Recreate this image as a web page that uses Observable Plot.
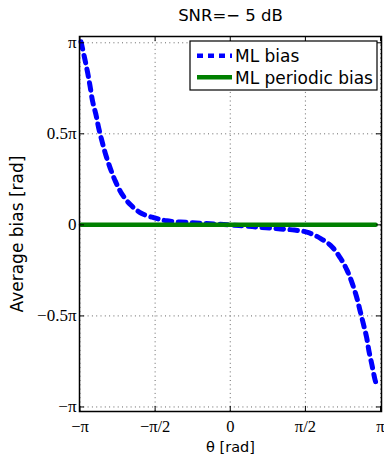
<!DOCTYPE html>
<html><head><meta charset="utf-8">
<script src="https://cdn.jsdelivr.net/npm/d3@7"></script>
<script src="https://cdn.jsdelivr.net/npm/@observablehq/plot@0.6"></script>
<style>
body{margin:0;background:#fff;}
#chart{position:relative;width:384px;height:455px;overflow:hidden;}
</style></head><body><div id="chart"></div>
<script>
const title = "SNR=\u2212 5 dB";
const xLabel = "\u03b8 [rad]";
const yLabel = "Average bias [rad]";
const seriesNames = ["ML bias", "ML periodic bias"];
const seriesColors = ["#0000ff", "#008000"];

const thetaML = [-3.12, -3.04, -2.98, -2.93, -2.88, -2.81, -2.75, -2.68, -2.60, -2.51, -2.40, -2.27, -2.09, -1.86, -1.58, -1.33, -0.84, -0.42, 0, 0.46, 0.75, 1.05, 1.34, 1.62, 1.90, 2.13, 2.30, 2.44, 2.55, 2.64, 2.71, 2.78, 2.85, 2.90, 2.96, 3.02, 3.05];
const biasML = [3.16, 2.86, 2.62, 2.39, 2.14, 1.91, 1.67, 1.44, 1.20, 0.98, 0.75, 0.54, 0.35, 0.20, 0.12, 0.07, 0.04, 0.02, 0, -0.03, -0.05, -0.07, -0.09, -0.13, -0.24, -0.38, -0.57, -0.78, -1.01, -1.24, -1.47, -1.70, -1.94, -2.18, -2.41, -2.65, -2.74];

const thetaPeriodic = [-3.12, -2.36, -1.57, -0.79, 0, 0.79, 1.57, 2.36, 3.04];
const biasPeriodic = [0, 0, 0, 0, 0, 0, 0, 0, 0];

const xTickValues = [-Math.PI, -Math.PI / 2, 0, Math.PI / 2, Math.PI];
const xTickLabels = ["\u2212\u03c0", "\u2212\u03c0/2", "0", "\u03c0/2", "\u03c0"];
const yTickValues = [-Math.PI, -Math.PI / 2, 0, Math.PI / 2, Math.PI];
const yTickLabels = ["\u2212\u03c0", "\u22120.5\u03c0", "0", "0.5\u03c0", "\u03c0"];

const mlData = thetaML.map((t, i) => ({theta: t, bias: biasML[i]}));
const periodicData = thetaPeriodic.map((t, i) => ({theta: t, bias: biasPeriodic[i]}));

const serif = "'Liberation Serif', 'Times New Roman', Times, serif";
const sans = "'DejaVu Sans', Verdana, sans-serif";

const W = 384, H = 455;
const mL = 79, mR = 3, mT = 36, mB = 44;
const innerW = W - mL - mR, innerH = H - mT - mB;
const tick = 5;

const plot = Plot.plot({
  width: W, height: H,
  marginLeft: mL, marginRight: mR, marginTop: mT, marginBottom: mB,
  style: {fontFamily: serif, fontSize: "17px", background: "white", color: "black", overflow: "visible"},
  x: {domain: [-Math.PI - 0.01, Math.PI + 0.02]},
  y: {domain: [-3.22, 3.25]},
  marks: [
    Plot.gridX(xTickValues, {stroke: "#666", strokeOpacity: 1, strokeWidth: 1, strokeDasharray: "1,3.3"}),
    Plot.gridY(yTickValues, {stroke: "#666", strokeOpacity: 1, strokeWidth: 1, strokeDasharray: "1,3.3"}),
    Plot.line(mlData, {x: "theta", y: "bias", stroke: seriesColors[0], strokeWidth: 5, strokeDasharray: "7.5,6.5", curve: "catmull-rom"}),
    Plot.line(periodicData, {x: "theta", y: "bias", stroke: seriesColors[1], strokeWidth: 4.5}),
    Plot.tickX(xTickValues, {x: d => d, insetTop: innerH - tick, stroke: "black"}),
    Plot.tickX(xTickValues, {x: d => d, insetBottom: innerH - tick, stroke: "black"}),
    Plot.tickY(yTickValues, {y: d => d, insetRight: innerW - tick, stroke: "black"}),
    Plot.tickY(yTickValues, {y: d => d, insetLeft: innerW - tick, stroke: "black"}),
    Plot.axisX(xTickValues, {anchor: "bottom", tickSize: 0, tickPadding: 9, label: null, fontSize: 16.5,
      tickFormat: d => xTickLabels[xTickValues.indexOf(d)]}),
    Plot.axisY(yTickValues, {anchor: "left", tickSize: 0, tickPadding: 3, label: null,
      tickFormat: d => yTickLabels[yTickValues.indexOf(d)]}),
    Plot.frame({stroke: "black", strokeWidth: 1.5}),
    Plot.text([title], {frameAnchor: "top", lineAnchor: "middle", textAnchor: "middle", dy: -20.5, fontFamily: sans, fontSize: 16.5}),
    Plot.text([yLabel], {frameAnchor: "left", lineAnchor: "middle", textAnchor: "middle", rotate: -90, dx: -62, dy: 10, fontFamily: sans, fontSize: 17}),
    Plot.text([xLabel], {frameAnchor: "bottom", lineAnchor: "middle", textAnchor: "middle", dy: 35.5, fontFamily: sans, fontSize: 14.5})
  ]
});

document.getElementById("chart").appendChild(plot);

// Legend (MATLAB-style box, upper right inside the axes)
const svg = d3.select(plot);
const lg = {x: W - mR - 191, y: mT + 5, w: 187, h: 49};
const g = svg.append("g").attr("class", "legend");
g.append("rect").attr("x", lg.x).attr("y", lg.y).attr("width", lg.w).attr("height", lg.h)
  .attr("fill", "white").attr("stroke", "black").attr("stroke-width", 1.2);
seriesNames.forEach((name, i) => {
  const cy = lg.y + 14.7 + i * 21.6;
  g.append("line").attr("x1", lg.x + 7).attr("x2", lg.x + 42).attr("y1", cy).attr("y2", cy)
    .attr("stroke", seriesColors[i]).attr("stroke-width", 4.5)
    .attr("stroke-dasharray", i === 0 ? "6,5" : null);
  g.append("text").attr("x", lg.x + 45).attr("y", cy + 6.2)
    .attr("text-anchor", "start")
    .attr("font-family", sans).attr("font-size", 17).attr("fill", "black").text(name);
});
</script>
</body></html>
